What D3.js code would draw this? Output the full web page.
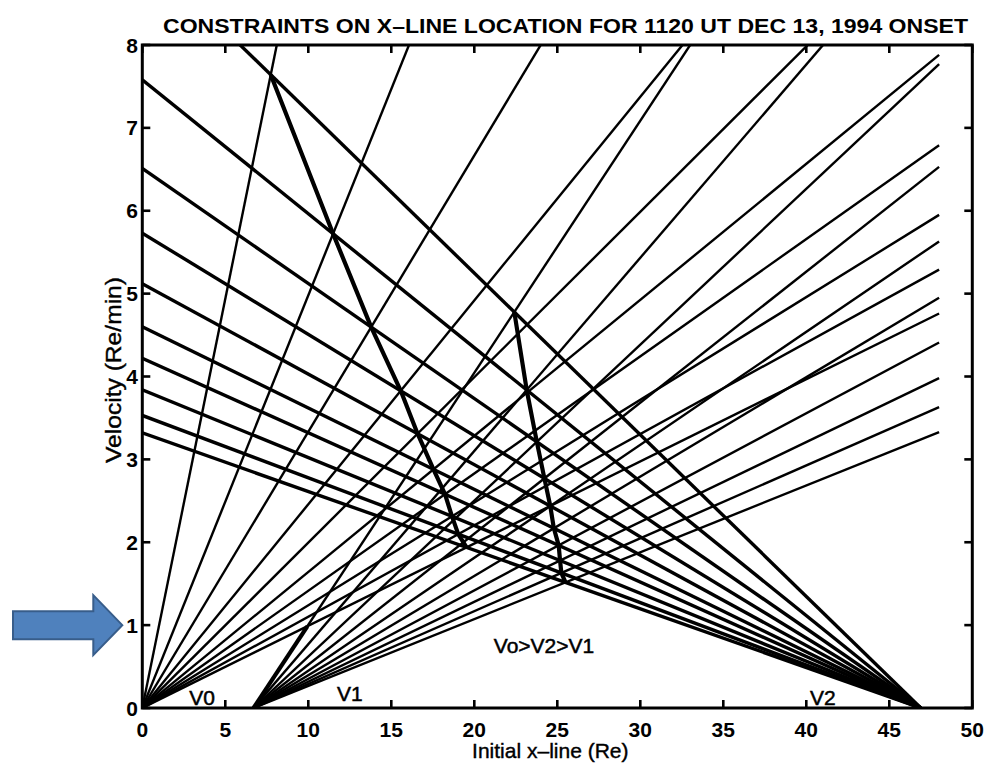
<!DOCTYPE html>
<html>
<head>
<meta charset="utf-8">
<script src="https://cdn.jsdelivr.net/npm/d3@7/dist/d3.min.js"></script>
<style>
  body { margin: 0; background: #fff; }
  text { font-family: "Liberation Sans", Arial, Helvetica, sans-serif; fill: #000; }
</style>
</head>
<body>
<svg id="chart" width="998" height="766"></svg>
<script>
// Timing constraints on the initial x-line position.
// Each line gives the flow velocity implied by one assumed onset time.

// V0 family: lines out of the station at x = 0, given as velocity reached at x = 48 Re
const v0Station = 0;
const v0At48 = [47.4, 23.9, 16.0, 11.8, 9.58, 7.88, 6.79, 5.95, 5.29, 4.76];

// V1 family: lines out of the station at x = 6.7 Re, velocity reached at x = 48 Re
const v1Station = 6.7;
const v1At48 = [12.56, 9.63, 7.77, 6.53, 5.63, 4.95, 4.41, 3.98, 3.63, 3.33];

// V2 family: lines into the station at x = 46.9 Re, velocity at x = 0
const v2Station = 46.9;
const v2At0 = [9.15, 7.58, 6.51, 5.73, 5.12, 4.60, 4.22, 3.84, 3.53, 3.32];

const lineEnd = 48;
const xTicks = [0, 5, 10, 15, 20, 25, 30, 35, 40, 45, 50];
const yTicks = [0, 1, 2, 3, 4, 5, 6, 7, 8];

const titleText = "CONSTRAINTS ON X\u2013LINE LOCATION FOR 1120 UT DEC 13, 1994 ONSET";
const xLabel = "Initial x\u2013line (Re)";
const yLabel = "Velocity (Re/min)";
const regionNote = "Vo>V2>V1";

const svg = d3.select("#chart");
const plot = { left: 142.3, right: 972.3, top: 45, bottom: 708 };

const x = d3.scaleLinear().domain([0, 50]).range([plot.left, plot.right]);
const y = d3.scaleLinear().domain([0, 8]).range([plot.bottom, plot.top]);

// line equations for each family
const v0 = (i, xv) => v0At48[i] * (xv - v0Station) / (lineEnd - v0Station);
const v1 = (i, xv) => v1At48[i] * (xv - v1Station) / (lineEnd - v1Station);
const v2 = (i, xv) => v2At0[i] * (v2Station - xv) / v2Station;

svg.append("clipPath").attr("id", "plotClip")
  .append("rect")
  .attr("x", plot.left).attr("y", plot.top)
  .attr("width", plot.right - plot.left).attr("height", plot.bottom - plot.top);

const g = svg.append("g").attr("clip-path", "url(#plotClip)");
const path = d3.line().x(d => x(d[0])).y(d => y(d[1]));

// rising families
v0At48.forEach((_, i) => {
  g.append("path")
    .attr("d", path([[v0Station, v0(i, v0Station)], [lineEnd, v0(i, lineEnd)]]))
    .attr("stroke", "#000").attr("stroke-width", 2.4).attr("fill", "none");
});
v1At48.forEach((_, i) => {
  g.append("path")
    .attr("d", path([[v1Station, v1(i, v1Station)], [lineEnd, v1(i, lineEnd)]]))
    .attr("stroke", "#000").attr("stroke-width", 2.4).attr("fill", "none");
});
// falling family
v2At0.forEach((_, i) => {
  g.append("path")
    .attr("d", path([[0, v2(i, 0)], [v2Station, v2(i, v2Station)]]))
    .attr("stroke", "#000").attr("stroke-width", 3.4).attr("fill", "none");
});

// boundaries: V0 = V2 and V1 = V2 for the same onset time
const v0v2 = v2At0.map((b, i) => {
  const a = v0At48[i] / (lineEnd - v0Station);
  const xv = (b + a * v0Station) / (a + b / v2Station);
  return [xv, v0(i, xv)];
});
const v1v2 = v2At0.map((b, i) => {
  const c = v1At48[i] / (lineEnd - v1Station);
  const xv = (b + c * v1Station) / (c + b / v2Station);
  return [xv, v1(i, xv)];
});
// V1 = V0 edge: steepest V1 line up to where it meets the shallowest V0 line
const sV1 = v1At48[0] / (lineEnd - v1Station);
const sV0 = v0At48[v0At48.length - 1] / (lineEnd - v0Station);
const xMeet = (sV1 * v1Station) / (sV1 - sV0);
const v1v0 = [[v1Station, 0], [xMeet, v1(0, xMeet)]];

[v0v2, v1v2, v1v0].forEach(pts => {
  g.append("path").attr("d", path(pts))
    .attr("stroke", "#000").attr("stroke-width", 4.2)
    .attr("stroke-linejoin", "round").attr("fill", "none");
});

// frame and inward ticks
const axes = svg.append("g");
axes.append("rect")
  .attr("x", plot.left).attr("y", plot.top)
  .attr("width", plot.right - plot.left).attr("height", plot.bottom - plot.top)
  .attr("fill", "none").attr("stroke", "#000").attr("stroke-width", 3);

const tickLen = 8;
xTicks.forEach(t => {
  axes.append("line").attr("x1", x(t)).attr("x2", x(t))
    .attr("y1", plot.bottom).attr("y2", plot.bottom - tickLen)
    .attr("stroke", "#000").attr("stroke-width", 2.6);
  axes.append("line").attr("x1", x(t)).attr("x2", x(t))
    .attr("y1", plot.top).attr("y2", plot.top + tickLen)
    .attr("stroke", "#000").attr("stroke-width", 2.6);
  axes.append("text").attr("x", x(t)).attr("y", 737)
    .attr("text-anchor", "middle").attr("font-size", 21).attr("font-weight", "bold")
    .text(t);
});
yTicks.forEach(t => {
  axes.append("line").attr("x1", plot.left).attr("x2", plot.left + tickLen)
    .attr("y1", y(t)).attr("y2", y(t))
    .attr("stroke", "#000").attr("stroke-width", 2.6);
  axes.append("line").attr("x1", plot.right).attr("x2", plot.right - tickLen)
    .attr("y1", y(t)).attr("y2", y(t))
    .attr("stroke", "#000").attr("stroke-width", 2.6);
  axes.append("text").attr("x", 138).attr("y", y(t) + 7.5)
    .attr("text-anchor", "end").attr("font-size", 21).attr("font-weight", "bold")
    .text(t);
});

// titles
svg.append("text").attr("x", 163).attr("y", 33)
  .attr("font-size", 20).attr("font-weight", "bold")
  .attr("textLength", 805).attr("lengthAdjust", "spacingAndGlyphs")
  .text(titleText);
svg.append("text").attr("x", (plot.left + plot.right) / 2 - 7).attr("y", 758)
  .attr("text-anchor", "middle").attr("font-size", 21)
  .attr("stroke", "#000").attr("stroke-width", 0.4)
  .text(xLabel);
svg.append("text")
  .attr("transform", `translate(121, ${370}) rotate(-90)`)
  .attr("text-anchor", "middle").attr("font-size", 22)
  .attr("stroke", "#000").attr("stroke-width", 0.4)
  .attr("textLength", 186).attr("lengthAdjust", "spacingAndGlyphs")
  .text(yLabel);

// family labels
const notes = [
  { t: "V0", xv: 3.6, yv: 0.04 },
  { t: "V1", xv: 12.5, yv: 0.08 },
  { t: "V2", xv: 41.0, yv: 0.04 },
  { t: regionNote, xv: 24.2, yv: 0.66 }
];
notes.forEach(n => {
  svg.append("text").attr("x", x(n.xv)).attr("y", y(n.yv))
    .attr("text-anchor", "middle").attr("font-size", 21)
    .attr("stroke", "#000").attr("stroke-width", 0.5)
    .text(n.t);
});

// pointer arrow at V = 1
const tipX = x(0) - 20, tipY = y(1);
const arrow = [
  [13, tipY - 14], [tipX - 29, tipY - 14], [tipX - 29, tipY - 30],
  [tipX, tipY], [tipX - 29, tipY + 30], [tipX - 29, tipY + 14], [13, tipY + 14]
];
svg.append("path")
  .attr("d", "M" + arrow.map(p => p.join(",")).join("L") + "Z")
  .attr("fill", "#4f81bd").attr("stroke", "#385d8a").attr("stroke-width", 2);
</script>
</body>
</html>
